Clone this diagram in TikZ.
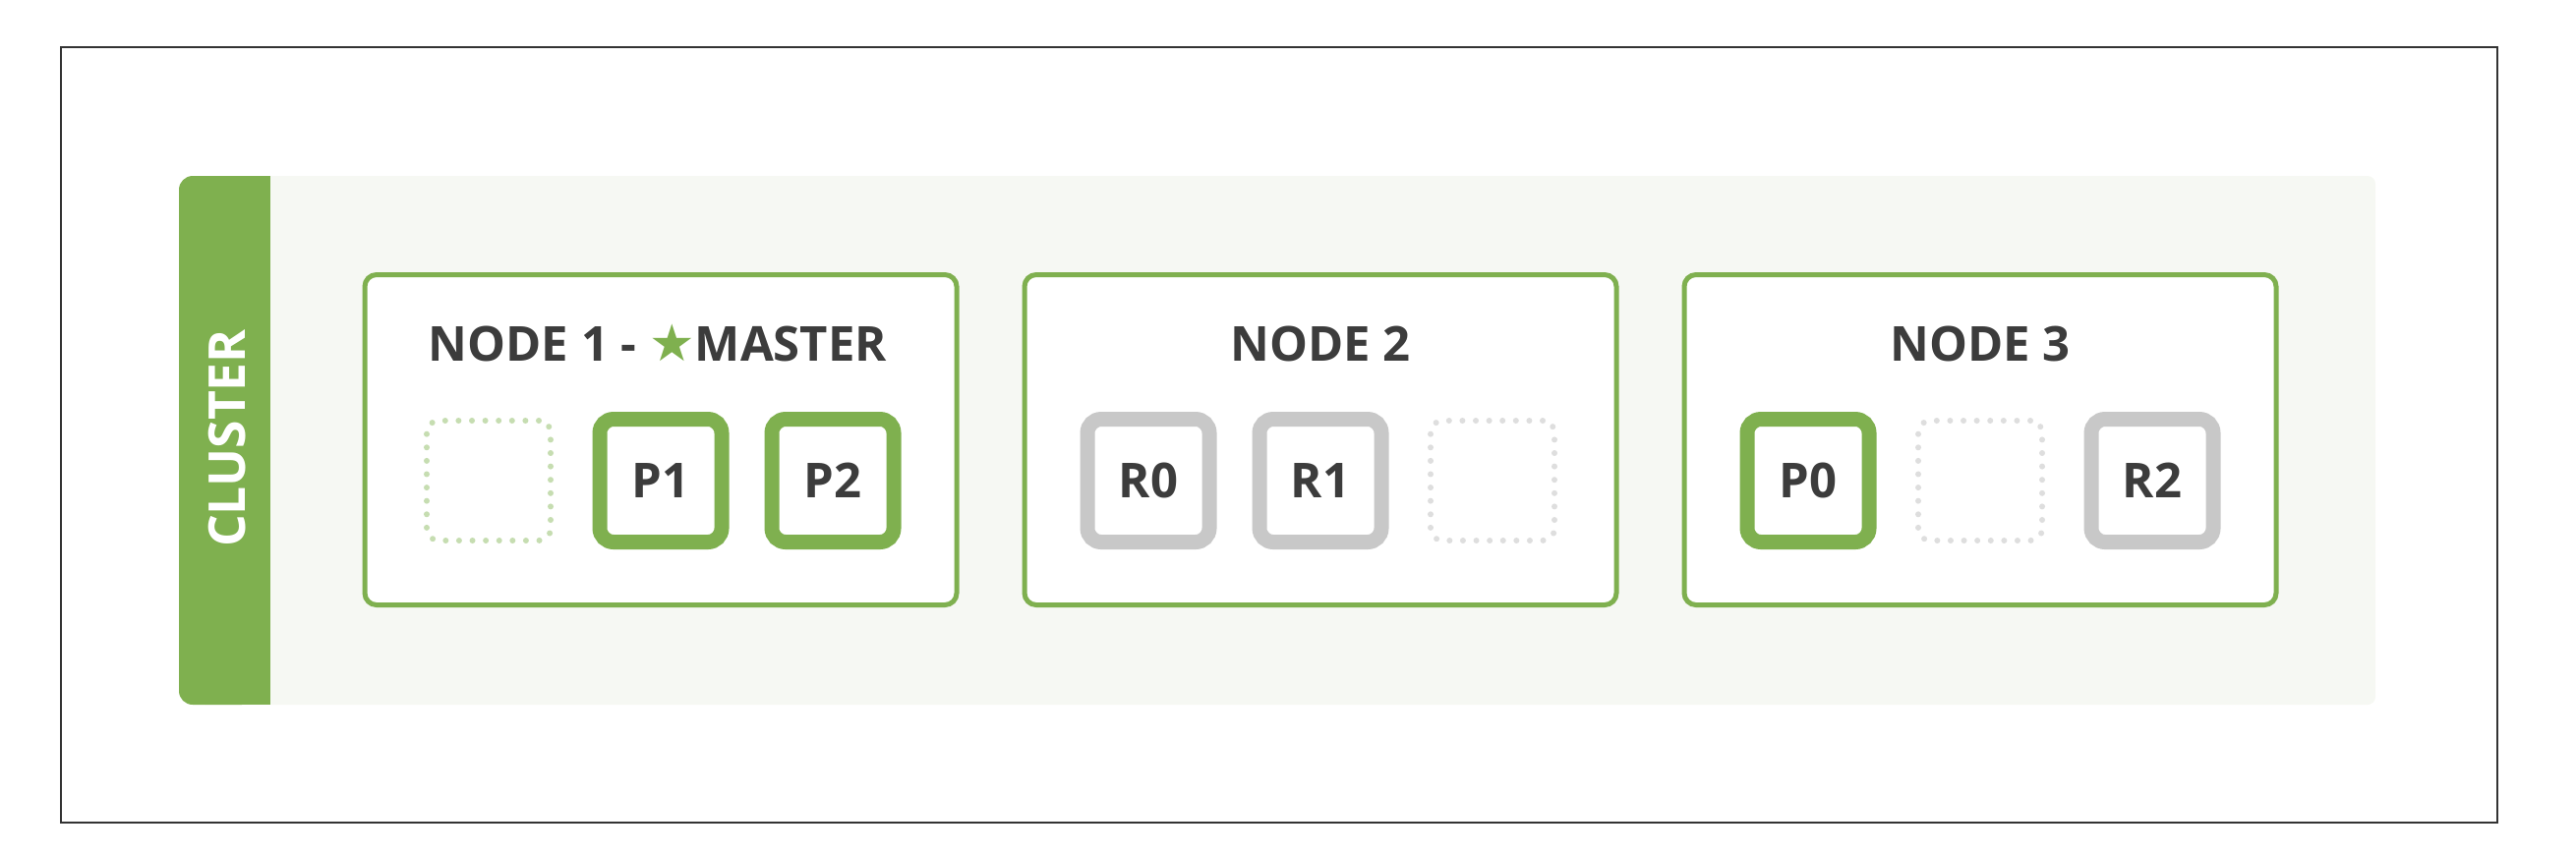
\documentclass[tikz,border=0pt]{standalone}
\usepackage{fontspec}
\setmainfont{Open Sans}
\newfontfamily\symfont{DejaVu Sans}
\definecolor{egreen}{HTML}{7FB04F}
\definecolor{lgreen}{HTML}{C6DDB1}
\definecolor{sgray}{HTML}{C8C8C8}
\definecolor{lgray}{HTML}{DEDEDE}
\definecolor{bgc}{HTML}{F6F8F3}
\definecolor{txt}{HTML}{3C3C3C}
\definecolor{frame}{HTML}{333333}
\tikzset{
  hostbox/.style={draw=egreen, line width=1.25pt, rounded corners=3pt, fill=white,
    minimum width=150.5pt, minimum height=84pt, inner sep=0pt},
  lbl/.style={text=txt, font=\fontsize{12.25pt}{14pt}\selectfont\bfseries, inner sep=0pt},
  shardbox/.style={line width=3.75pt, rounded corners=3.5pt, fill=white,
    minimum width=31pt, minimum height=31.25pt, inner sep=0pt, lbl},
  primary/.style={shardbox, draw=egreen},
  replica/.style={shardbox, draw=sgray},
  emptyslot/.style={line width=1.5pt, rounded corners=3pt, line cap=round,
    dash pattern=on 0pt off 3.4pt, minimum width=31.5pt, minimum height=30.5pt, inner sep=0pt},
}
\begin{document}
\begin{tikzpicture}[x=0.25pt, y=-0.25pt]
\useasboundingbox (0,0) rectangle (2620,870);
% outer frame
\draw[frame, line width=0.5pt] (62,48) rectangle (2540,837);
% cluster background
\fill[bgc, rounded corners=2pt] (200,179) rectangle (2416,717);
\fill[egreen, rounded corners=3.5pt] (182,179) rectangle (260,717);
\fill[egreen] (230,179) rectangle (275,717);
\node[rotate=90, text=white, font=\fontsize{12.9pt}{15pt}\selectfont\bfseries, inner sep=0pt] (cluster) at (231,446) {CLUSTER};
% hosts
\node[hostbox] (n1) at (672,447.5) {};
\node[hostbox] (n2) at (1343,447.5) {};
\node[hostbox] (n3) at (2014,447.5) {};
\node[lbl, anchor=base] (t1) at (669,367) {NODE 1 - {\symfont\color{egreen}\fontsize{13pt}{14pt}\selectfont ★}MASTER};
\node[lbl, anchor=base] (t2) at (1343,367) {NODE 2};
\node[lbl, anchor=base] (t3) at (2014,367) {NODE 3};
% node 1 shards
\node[emptyslot, draw=lgreen] (e1) at (497,489) {};
\node[primary] (p1) at (672,489) {P1};
\node[primary] (p2) at (847,489) {P2};
% node 2 shards
\node[replica] (r0) at (1168,489) {R0};
\node[replica] (r1) at (1343,489) {R1};
\node[emptyslot, draw=lgray] (e2) at (1518,489) {};
% node 3 shards
\node[primary] (p0) at (1839,489) {P0};
\node[emptyslot, draw=lgray] (e3) at (2014,489) {};
\node[replica] (r2) at (2189,489) {R2};
\end{tikzpicture}
\end{document}
